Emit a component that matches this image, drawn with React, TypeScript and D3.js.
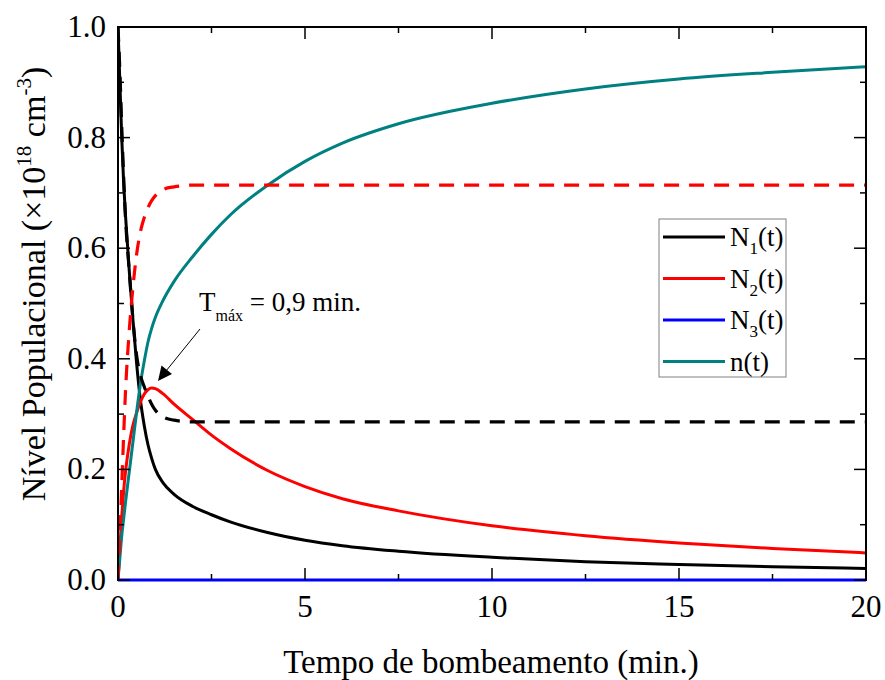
import React from "react";
import * as d3 from "d3";

const times = [0, 0.05, 0.1, 0.15, 0.2, 0.3, 0.4, 0.5, 0.6, 0.7, 0.8, 0.9, 1.0, 1.2, 1.5, 2, 2.5, 3, 4, 5, 6, 7.5, 10, 12.5, 15, 17.5, 20];
const n1Solid = [1.0, 0.9, 0.8, 0.72, 0.66, 0.56, 0.47, 0.39, 0.325, 0.28, 0.245, 0.22, 0.2, 0.176, 0.155, 0.133, 0.118, 0.105, 0.086, 0.072, 0.062, 0.052, 0.041, 0.033, 0.028, 0.024, 0.021];
const n2Solid = [0, 0.06, 0.115, 0.16, 0.195, 0.245, 0.28, 0.303, 0.322, 0.336, 0.344, 0.347, 0.346, 0.337, 0.318, 0.29, 0.262, 0.238, 0.198, 0.169, 0.147, 0.125, 0.098, 0.08, 0.067, 0.057, 0.049];
const nSolid = [0, 0.04, 0.08, 0.11, 0.14, 0.195, 0.25, 0.305, 0.355, 0.395, 0.43, 0.455, 0.475, 0.505, 0.54, 0.585, 0.625, 0.66, 0.714, 0.757, 0.79, 0.825, 0.862, 0.888, 0.906, 0.918, 0.928];

const dashTimes = [0, 0.05, 0.1, 0.15, 0.2, 0.3, 0.4, 0.5, 0.6, 0.7, 0.8, 0.9, 1.0, 1.2, 1.5, 2, 20];
const n1Dashed = [1.0, 0.92, 0.82, 0.73, 0.655, 0.56, 0.47, 0.405, 0.37, 0.35, 0.333, 0.318, 0.307, 0.295, 0.289, 0.286, 0.286];
const n2Dashed = [0, 0.08, 0.17, 0.26, 0.34, 0.45, 0.53, 0.59, 0.63, 0.655, 0.673, 0.686, 0.695, 0.706, 0.711, 0.714, 0.714];

const n3Times = [0, 20];
const n3Values = [0, 0];

const xTicks = [0, 5, 10, 15, 20];
const xMinor = [2.5, 7.5, 12.5, 17.5];
const yTicks = [0, 0.2, 0.4, 0.6, 0.8, 1.0];
const yMinor = [0.1, 0.3, 0.5, 0.7, 0.9];

const legendItems = [
  { base: "N", sub: "1", rest: "(t)", color: "#000000" },
  { base: "N", sub: "2", rest: "(t)", color: "#ff0000" },
  { base: "N", sub: "3", rest: "(t)", color: "#0000ff" },
  { base: "n", sub: "", rest: "(t)", color: "#008080" },
];

const FONT = "Liberation Serif, DejaVu Serif, serif";

export default function App() {
  const W = 885, H = 680;
  const L = 118, R = 866, T = 27, B = 580;
  const x = d3.scaleLinear().domain([0, 20]).range([L, R]);
  const y = d3.scaleLinear().domain([0, 1]).range([B, T]);

  const mk = (ts: number[], vs: number[]) =>
    d3.line<number>().x((_, i) => x(ts[i])).y((v) => y(v)).curve(d3.curveMonotoneX)(vs) || "";

  const majorLen = 12, minorLen = 6;

  return (
    <svg width={W} height={H} style={{ position: "absolute", left: 0, top: 0, background: "#fff", fontFamily: FONT }}>
      <rect x={0} y={0} width={W} height={H} fill="#ffffff" />
      <defs>
        <clipPath id="plotclip">
          <rect x={L} y={T - 2} width={R - L} height={B - T + 4} />
        </clipPath>
      </defs>

      <g clipPath="url(#plotclip)" fill="none" strokeLinejoin="round">
        <path d={mk(times, n1Solid)} stroke="#000000" strokeWidth={3} />
        <path d={mk(times, n2Solid)} stroke="#ff0000" strokeWidth={3} />
        <path d={mk(times, nSolid)} stroke="#008080" strokeWidth={3} />
        <path d={mk(dashTimes, n1Dashed)} stroke="#000000" strokeWidth={3.2} strokeDasharray="15,10" />
        <path d={mk(dashTimes, n2Dashed)} stroke="#ff0000" strokeWidth={3.2} strokeDasharray="15,10" />
      </g>

      <rect x={L} y={T} width={R - L} height={B - T} fill="none" stroke="#000" strokeWidth={2} />
      <path d={mk(n3Times, n3Values)} stroke="#0000ff" strokeWidth={3} fill="none" />

      <g stroke="#000" strokeWidth={1.5}>
        {xTicks.map((t) => (
          <g key={"xt" + t}>
            <line x1={x(t)} x2={x(t)} y1={B} y2={B - majorLen} />
            <line x1={x(t)} x2={x(t)} y1={T} y2={T + majorLen} />
          </g>
        ))}
        {xMinor.map((t) => (
          <g key={"xm" + t}>
            <line x1={x(t)} x2={x(t)} y1={B} y2={B - minorLen} />
            <line x1={x(t)} x2={x(t)} y1={T} y2={T + minorLen} />
          </g>
        ))}
        {yTicks.map((v) => (
          <g key={"yt" + v}>
            <line x1={L} x2={L + majorLen} y1={y(v)} y2={y(v)} />
            <line x1={R} x2={R - majorLen} y1={y(v)} y2={y(v)} />
          </g>
        ))}
        {yMinor.map((v) => (
          <g key={"ym" + v}>
            <line x1={L} x2={L + minorLen} y1={y(v)} y2={y(v)} />
            <line x1={R} x2={R - minorLen} y1={y(v)} y2={y(v)} />
          </g>
        ))}
      </g>

      <g fontSize={31} fill="#000">
        {xTicks.map((t) => (
          <text key={"xl" + t} x={x(t)} y={617} textAnchor="middle">{d3.format("d")(t)}</text>
        ))}
        {yTicks.map((v) => (
          <text key={"yl" + v} x={106} y={y(v) + 10} textAnchor="end">{d3.format(".1f")(v)}</text>
        ))}
      </g>

      <text x={491} y={673} fontSize={33} textAnchor="middle">Tempo de bombeamento (min.)</text>
      <text transform={`translate(45, 284) rotate(-90)`} fontSize={34} textAnchor="middle">
        Nível Populacional (×10<tspan fontSize={21} dy={-14}>18</tspan><tspan dy={14}> cm</tspan><tspan fontSize={21} dy={-14}>-3</tspan><tspan dy={14}>)</tspan>
      </text>

      <text x={199} y={311} fontSize={27}>
        T<tspan fontSize={16} dy={10}>máx</tspan><tspan dy={-10}> = 0,9 min.</tspan>
      </text>
      <line x1={200} y1={329} x2={166} y2={371} stroke="#000" strokeWidth={1} />
      <path d="M158,381 L161.5,365.5 L172,374 Z" fill="#000" />

      <rect x={659} y={219} width={127} height={158} fill="#fff" stroke="#808080" strokeWidth={1} />
      {legendItems.map((it, i) => {
        const ly = 237 + i * 41.5;
        return (
          <g key={"lg" + i}>
            <line x1={663} x2={725} y1={ly} y2={ly} stroke={it.color} strokeWidth={3} />
            <text x={730} y={ly + 9} fontSize={27}>
              {it.base}
              {it.sub ? <tspan fontSize={17} dy={8}>{it.sub}</tspan> : null}
              <tspan dy={it.sub ? -8 : 0}>{it.rest}</tspan>
            </text>
          </g>
        );
      })}
    </svg>
  );
}
